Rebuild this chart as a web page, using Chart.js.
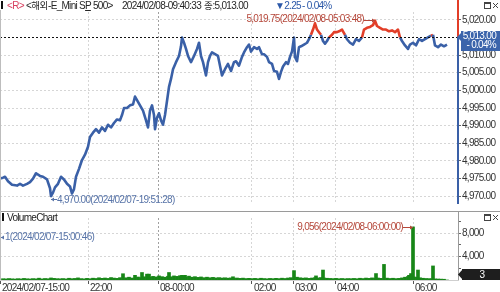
<!DOCTYPE html>
<html><head><meta charset="utf-8">
<script src="https://cdn.jsdelivr.net/npm/chart.js@4.4.1/dist/chart.umd.min.js"></script>
<style>
html,body{margin:0;padding:0;background:#fff;width:500px;height:292px;overflow:hidden;}
#wrap{position:relative;width:500px;height:292px;}
canvas{position:absolute;left:0;}
#c1{top:0;}
#c2{top:211px;}
.t{position:absolute;line-height:11px;white-space:nowrap;color:#262626;font-family:"Liberation Sans",Arial,sans-serif;font-size:10px;letter-spacing:-0.7px;}
.kr{font-family:"Noto Sans CJK KR",sans-serif;font-size:9.5px;letter-spacing:-0.3px;}
.blk{position:absolute;width:2px;height:8px;background:#111;}
</style></head>
<body><div id="wrap">
<canvas id="c1" width="500" height="211"></canvas>
<canvas id="c2" width="500" height="81"></canvas>
<span class="blk" style="left:1px;top:1px"></span>
<div class="t" style="left:7px;top:0;color:#d8405f">&lt;R&gt;</div>
<div class="t" style="left:26px;top:0">&lt;<span class="kr">해외</span>-E_Mini S<u>P</u> 500&gt;</div>
<div class="t" style="left:122px;top:0">2024/02/08-09:40:33</div>
<div class="t" style="left:204px;top:0"><span class="kr">종</span>:5,013.00</div>
<div class="t" style="left:275px;top:0;color:#2b58a8">▼2.25</div>
<div class="t" style="left:302px;top:0;color:#2b58a8">- 0.04%</div>
<span class="blk" style="left:2px;top:213px"></span>
<div class="t" style="left:7px;top:212px;color:#222">VolumeChart</div>
</div>
<script>
// ---- data ----
const seq = [0,3,5,8,12,17,20,23,27,30,33,36,40,43,47,50,51,53,55,58,61,64,67,70,72,74,76,79,82,85,88,90,93,96,99,102,105,108,111,114,117,120,122,124,127,130,133,135,137,140,143,146,148,150,152,154,155,157,159,161,163,165,167,169,171,173,176,179,181,182,184,186,188,191,194,197,199,201,203,206,208,210,212,215,218,220,222,225,228,231,234,236,239,242,244,247,249,251,254,257,259,262,264,267,269,272,274,277,279,281,283,286,288,290,292,294,295,297,299,301,304,307,309,311,313,315,317,319,321,323,325,327,329,332,334,337,339,342,345,347,350,353,356,359,362,364,367,370,373,375,377,380,383,386,389,392,395,398,400,402,405,408,410,413,416,419,422,425,428,431,433,435,438,441,444,447];
const price = [4975.0,4975.25,4975.5,4974.25,4973.25,4973.0,4973.5,4973.0,4973.5,4974.0,
4975.0,4976.5,4975.75,4975.5,4974.75,4972.25,4970.0,4971.0,4972.5,4973.5,
4975.5,4974.75,4973.5,4972.75,4970.75,4972.0,4975.5,4977.75,4980.25,4981.75,
4984.0,4986.75,4988.0,4989.0,4988.0,4989.5,4988.5,4990.25,4989.5,4990.75,
4991.75,4991.5,4993.0,4995.0,4995.0,4995.75,4996.0,4998.25,4997.25,4995.75,
4994.25,4991.5,4989.5,4994.25,4995.75,4993.0,4989.0,4992.25,4993.5,4991.5,
4990.25,4993.0,4997.0,5001.0,5003.25,5006.0,5008.0,5009.75,5012.5,5015.0,
5013.5,5011.75,5009.75,5008.0,5009.75,5011.75,5013.5,5009.75,5008.0,5004.25,
5008.0,5009.75,5010.75,5010.25,5009.75,5007.0,5004.25,5006.0,5007.5,5005.5,
5008.0,5008.25,5007.0,5009.5,5010.75,5012.25,5013.0,5011.0,5012.25,5011.75,
5012.25,5010.25,5010.25,5009.5,5008.0,5007.5,5005.5,5005.25,5003.25,5005.25,
5006.75,5008.0,5007.5,5009.5,5011.0,5015.0,5009.5,5008.25,5012.25,5012.5,
5013.0,5013.5,5014.5,5015.75,5017.25,5019.0,5017.25,5016.5,5015.75,5014.0,
5013.25,5014.0,5015.0,5015.75,5016.5,5016.5,5016.75,5017.25,5015.75,5014.5,
5013.5,5013.0,5014.5,5014.0,5015.0,5017.25,5017.75,5018.0,5018.5,5019.75,
5018.25,5017.75,5017.25,5017.25,5016.75,5017.0,5016.5,5017.25,5015.0,5014.0,
5012.75,5011.75,5013.0,5013.5,5012.75,5014.5,5014.0,5014.5,5015.0,5015.5,
5015.75,5012.75,5012.25,5013.0,5012.5,5013.0];
const prevClose = 5015.25;
const hiTime = '2024/02/08-05:03:48';
const loTime = '2024/02/07-19:51:28';
const priceTicks = [4970,4975,4980,4985,4990,4995,5000,5005,5010,5015,5020];

const volSeq = [0,3,6,9,12,15,18,21,24,27,30,33,36,39,42,45,48,51,54,57,60,63,66,69,72,75,78,81,84,87,90,93,96,99,102,105,108,111,114,117,
120,123,126,129,132,135,138,141,142,144,147,149,150,153,156,159,162,165,168,169,171,174,177,180,182,183,185,186,189,192,
195,198,201,204,207,210,213,216,219,222,225,228,231,233,234,237,240,243,246,249,252,255,258,261,264,267,270,273,276,279,
282,285,288,291,294,297,300,303,306,309,312,315,316,318,321,323,324,327,330,333,336,339,342,345,348,351,354,357,360,363,
366,369,372,375,376,378,381,384,387,390,393,396,399,402,405,408,409,411,413,414,417,418,420,423,426,429,432,433,435,438,441,444,447];
const volume = [1,220,190,250,200,170,230,190,270,210,180,240,200,310,190,260,220,350,280,230,210,250,190,300,230,270,360,240,200,280,220,310,260,380,290,340,270,420,330,280,
400,1070,380,480,340,800,510,400,1280,550,1000,1000,480,620,530,700,570,480,640,1280,550,700,620,740,800,600,800,520,660,480,
570,450,520,400,480,390,450,360,410,340,380,320,360,550,300,340,280,320,250,290,240,280,220,300,250,210,270,230,290,240,
310,260,340,400,1600,480,380,320,360,280,340,400,700,360,420,1700,340,300,270,240,280,220,260,210,250,230,270,220,300,250,
330,280,360,300,1100,340,280,2660,320,260,300,240,280,360,480,600,800,1100,9056,520,450,1700,380,300,260,240,220,2400,190,170,150,130,3];
const volTime = ['2024/02/08-06:00:00','2024/02/07-15:00:46'];  // time of max, min volume
const volTicks = [2000,4000,6000,8000,10000];
const volTickLabels = [4000,8000];

const timeTickSeq = [0,88,158,252,293,335,413];
const timeTickLabels = ['2024/02/07-15:00','22:00','08-00:00','02:00','03:00','04:00','06:00'];
const dayBreak = 158;

// ---- style ----
const FONT = '"Liberation Sans",Arial,sans-serif';
const FS = 10;
const LS = '-0.7px';
const BLUE = '#3a60a7', RED = '#e23e28', GREEN = '#178617';
const ANN_RED = '#b5473a', ANN_BLUE = '#5874a8';
const GRID = '#d6d6d6', GRID_DAY = '#a0a0a0';
const X_MIN = 0, X_MAX = 458;
const P_MIN = 4967.78, P_MAX = 5022.22;
const V_MAX = 10580;

const fmt = (v,d) => { const s = Math.abs(v).toFixed(d); const parts = s.split('.'); return (v<0?'-':'') + parts[0].replace(/\B(?=(\d{3})+(?!\d))/g, ',') + (parts[1]?'.'+parts[1]:''); };
const gridColX = v => v === 0 ? 'rgba(0,0,0,0)' : (v === dayBreak ? GRID_DAY : GRID);

const tightText = {
  id:'tightText',
  beforeLayout(chart){ chart.ctx.letterSpacing = LS; },
  beforeDraw(chart){ chart.ctx.letterSpacing = LS; }
};

function arrowTo(ctx, x1, x2, y, col){
  ctx.strokeStyle = col; ctx.fillStyle = col; ctx.lineWidth = 1;
  ctx.beginPath(); ctx.moveTo(x1, y); ctx.lineTo(x2, y); ctx.stroke();
  const d = x2 > x1 ? -1 : 1;
  ctx.beginPath(); ctx.moveTo(x2, y); ctx.lineTo(x2 + d*3, y-2); ctx.lineTo(x2 + d*3, y+2); ctx.closePath(); ctx.fill();
}
function icons(ctx, x, y){
  ctx.strokeStyle = '#444'; ctx.lineWidth = 1;
  ctx.strokeRect(x+0.5, y+0.5, 6, 6);
  ctx.fillStyle = '#444'; ctx.fillRect(x, y, 7, 2);
  ctx.beginPath(); ctx.moveTo(x+9, y+1); ctx.lineTo(x+14, y+6); ctx.moveTo(x+14, y+1); ctx.lineTo(x+9, y+6); ctx.stroke();
}

const overlay1 = {
  id:'overlay1',
  afterDraw(chart){
    const {ctx, chartArea:a, scales:{x, y}} = chart;
    ctx.save();
    ctx.letterSpacing = LS;
    const yp = Math.round(y.getPixelForValue(prevClose)) + 0.5;
    ctx.setLineDash([2,2]); ctx.strokeStyle = '#111'; ctx.lineWidth = 1;
    ctx.beginPath(); ctx.moveTo(a.left, yp); ctx.lineTo(a.right, yp); ctx.stroke();
    ctx.setLineDash([]);
    ctx.strokeStyle = '#bdbdbd'; ctx.beginPath(); ctx.moveTo(0.5, a.top-2); ctx.lineTo(0.5, chart.height); ctx.stroke();
    ctx.lineWidth = 2;
    ctx.strokeStyle = RED; ctx.beginPath(); ctx.moveTo(a.right, 0); ctx.lineTo(a.right, yp); ctx.stroke();
    ctx.strokeStyle = BLUE; ctx.beginPath(); ctx.moveTo(a.right, yp); ctx.lineTo(a.right, a.bottom); ctx.stroke();
    ctx.font = FS + 'px ' + FONT; ctx.textBaseline = 'middle';
    const hiP = Math.max(...price), loP = Math.min(...price);
    const iHi = price.indexOf(hiP), iLo = price.indexOf(loP);
    const hx = x.getPixelForValue(seq[iHi]), hy = y.getPixelForValue(hiP);
    ctx.fillStyle = ANN_RED; ctx.textAlign = 'right';
    ctx.fillText(fmt(hiP,2) + '(' + hiTime + ')', hx - 11, hy - 1);
    arrowTo(ctx, hx - 11, hx, Math.round(hy) - 0.5, ANN_RED);
    const lx = x.getPixelForValue(seq[iLo]), ly = y.getPixelForValue(loP);
    ctx.fillStyle = ANN_BLUE; ctx.textAlign = 'left';
    ctx.fillText(fmt(loP,2) + '(' + loTime + ')', lx + 6, ly + 4);
    arrowTo(ctx, lx + 6, lx, Math.round(ly) + 3.5, ANN_BLUE);
    const lastP = price[price.length-1];
    const cy = y.getPixelForValue(lastP);
    const bx = a.right + 3, top = Math.round(cy) - 14;
    ctx.fillStyle = '#3b64ab';
    ctx.fillRect(bx, top, 500 - bx, 20);
    ctx.beginPath(); ctx.moveTo(a.right - 1, top + 6); ctx.lineTo(bx, top + 2); ctx.lineTo(bx, top + 10); ctx.closePath(); ctx.fill();
    ctx.fillStyle = '#fff'; ctx.textAlign = 'right';
    ctx.fillText(fmt(lastP,2), 496, top + 5.5);
    const pct = (lastP - prevClose) / prevClose * 100;
    ctx.fillText((pct < 0 ? '- ' : '') + Math.abs(pct).toFixed(2) + '%', 496, top + 14.5);
    icons(ctx, 484, 2);
    ctx.restore();
  }
};

const overlay2 = {
  id:'overlay2',
  afterDraw(chart){
    const {ctx, chartArea:a, scales:{x, y}} = chart;
    ctx.save();
    ctx.letterSpacing = LS;
    ctx.strokeStyle = '#9a9a9a'; ctx.lineWidth = 1;
    ctx.beginPath(); ctx.moveTo(0, 0.5); ctx.lineTo(500, 0.5); ctx.stroke();
    ctx.beginPath(); ctx.moveTo(a.right + 0.5, 0); ctx.lineTo(a.right + 0.5, a.bottom); ctx.stroke();
    ctx.strokeStyle = '#bdbdbd';
    ctx.beginPath(); ctx.moveTo(0.5, 0); ctx.lineTo(0.5, a.bottom); ctx.stroke();
    ctx.font = FS + 'px ' + FONT; ctx.textBaseline = 'middle';
    const vMax = Math.max(...volume), vMin = Math.min(...volume);
    const iMax = volume.indexOf(vMax), iMin = volume.indexOf(vMin);
    const mx = x.getPixelForValue(volSeq[iMax]), my = y.getPixelForValue(vMax);
    ctx.fillStyle = ANN_RED; ctx.textAlign = 'right';
    ctx.fillText(fmt(vMax,0) + '(' + volTime[0] + ')', mx - 10, my);
    arrowTo(ctx, mx - 10, mx, Math.round(my) + 0.5, ANN_RED);
    const nx = x.getPixelForValue(volSeq[iMin]);
    ctx.fillStyle = ANN_BLUE; ctx.textAlign = 'left';
    ctx.fillText(fmt(vMin,0) + '(' + volTime[1] + ')', nx + 5, a.top + 19);
    arrowTo(ctx, nx + 4, nx + 1, a.top + 19.5, ANN_BLUE);
    const lastV = volume[volume.length-1];
    const by = a.bottom - 11;
    ctx.fillStyle = '#1e1e1e';
    ctx.fillRect(a.right + 4, by, 500 - a.right - 4, 11);
    ctx.beginPath(); ctx.moveTo(a.right, by + 5.5); ctx.lineTo(a.right + 5, by); ctx.lineTo(a.right + 5, by + 11); ctx.closePath(); ctx.fill();
    ctx.fillStyle = '#fff'; ctx.textAlign = 'center';
    ctx.fillText(String(lastV), 482, by + 6);
    icons(ctx, 484, 3);
    ctx.restore();
  }
};

new Chart(document.getElementById('c1'), {
  type:'line',
  data:{datasets:[{
    data: seq.map((s,i)=>({x:s, y:price[i]})),
    borderColor: BLUE, borderWidth: 2.6, pointRadius: 0, tension: 0, borderJoinStyle:'round',
    segment:{ borderColor: c => ((c.p0.parsed.y + c.p1.parsed.y)/2 > prevClose ? RED : BLUE) }
  }]},
  options:{
    responsive:false, devicePixelRatio:1, animation:false,
    layout:{padding:{left:0, right:0, top:12, bottom:3}},
    plugins:{legend:{display:false}, tooltip:{enabled:false}},
    scales:{
      x:{type:'linear', min:X_MIN, max:X_MAX, offset:false,
         ticks:{display:false}, border:{display:false, dash:[2,2]},
         grid:{drawTicks:false, color: c => gridColX(c.tick ? c.tick.value : null)},
         afterBuildTicks: ax => { ax.ticks = timeTickSeq.map(v => ({value:v})); },
         afterFit: ax => { ax.height = 0; }},
      y:{type:'linear', position:'right', min:P_MIN, max:P_MAX,
         afterBuildTicks: ax => { ax.ticks = priceTicks.map(v => ({value:v})); },
         afterFit: ax => { ax.width = 42; },
         border:{display:false, dash:[2,2]},
         grid:{color:GRID, drawTicks:true, tickLength:3, tickColor:'#666'},
         ticks:{padding:1, color:'#333', font:{family:FONT, size:FS}, callback: v => fmt(v,2)}}
    }
  },
  plugins:[tightText, overlay1]
});

new Chart(document.getElementById('c2'), {
  type:'bar',
  data:{datasets:[{
    data: volSeq.map((s,i)=>({x:s, y:volume[i]})),
    backgroundColor: GREEN, barThickness: 3, borderWidth: 0
  }]},
  options:{
    responsive:false, devicePixelRatio:1, animation:false,
    layout:{padding:{left:0, right:0, top:2, bottom:0}},
    plugins:{legend:{display:false}, tooltip:{enabled:false}},
    scales:{
      x:{type:'linear', min:X_MIN, max:X_MAX, offset:false,
         afterBuildTicks: ax => { ax.ticks = timeTickSeq.map(v => ({value:v})); },
         afterFit: ax => { ax.height = 12; },
         border:{display:true, color:'#cfcfcf', dash:[2,2]},
         grid:{offset:false, color: c => gridColX(c.tick ? c.tick.value : null), drawTicks:true, tickLength:4, tickColor:'#555'},
         ticks:{autoSkip:false, maxRotation:0, align:'start', labelOffset:2, padding:-2, color:'#333',
                font:{family:FONT, size:FS}, callback:(v,i) => timeTickLabels[i]}},
      y:{type:'linear', position:'right', min:0, max:V_MAX,
         afterBuildTicks: ax => { ax.ticks = volTicks.map(v => ({value:v})); },
         afterFit: ax => { ax.width = 42; },
         border:{display:false, dash:[2,2]},
         grid:{color: c => (c.tick && volTickLabels.includes(c.tick.value)) ? GRID : 'rgba(0,0,0,0)', drawTicks:true, tickLength:3, tickColor:'#666'},
         ticks:{padding:1, color:'#333', font:{family:FONT, size:FS}, callback: v => volTickLabels.includes(v) ? fmt(v,0) : ''}}
    }
  },
  plugins:[tightText, overlay2]
});
</script>
</body></html>
